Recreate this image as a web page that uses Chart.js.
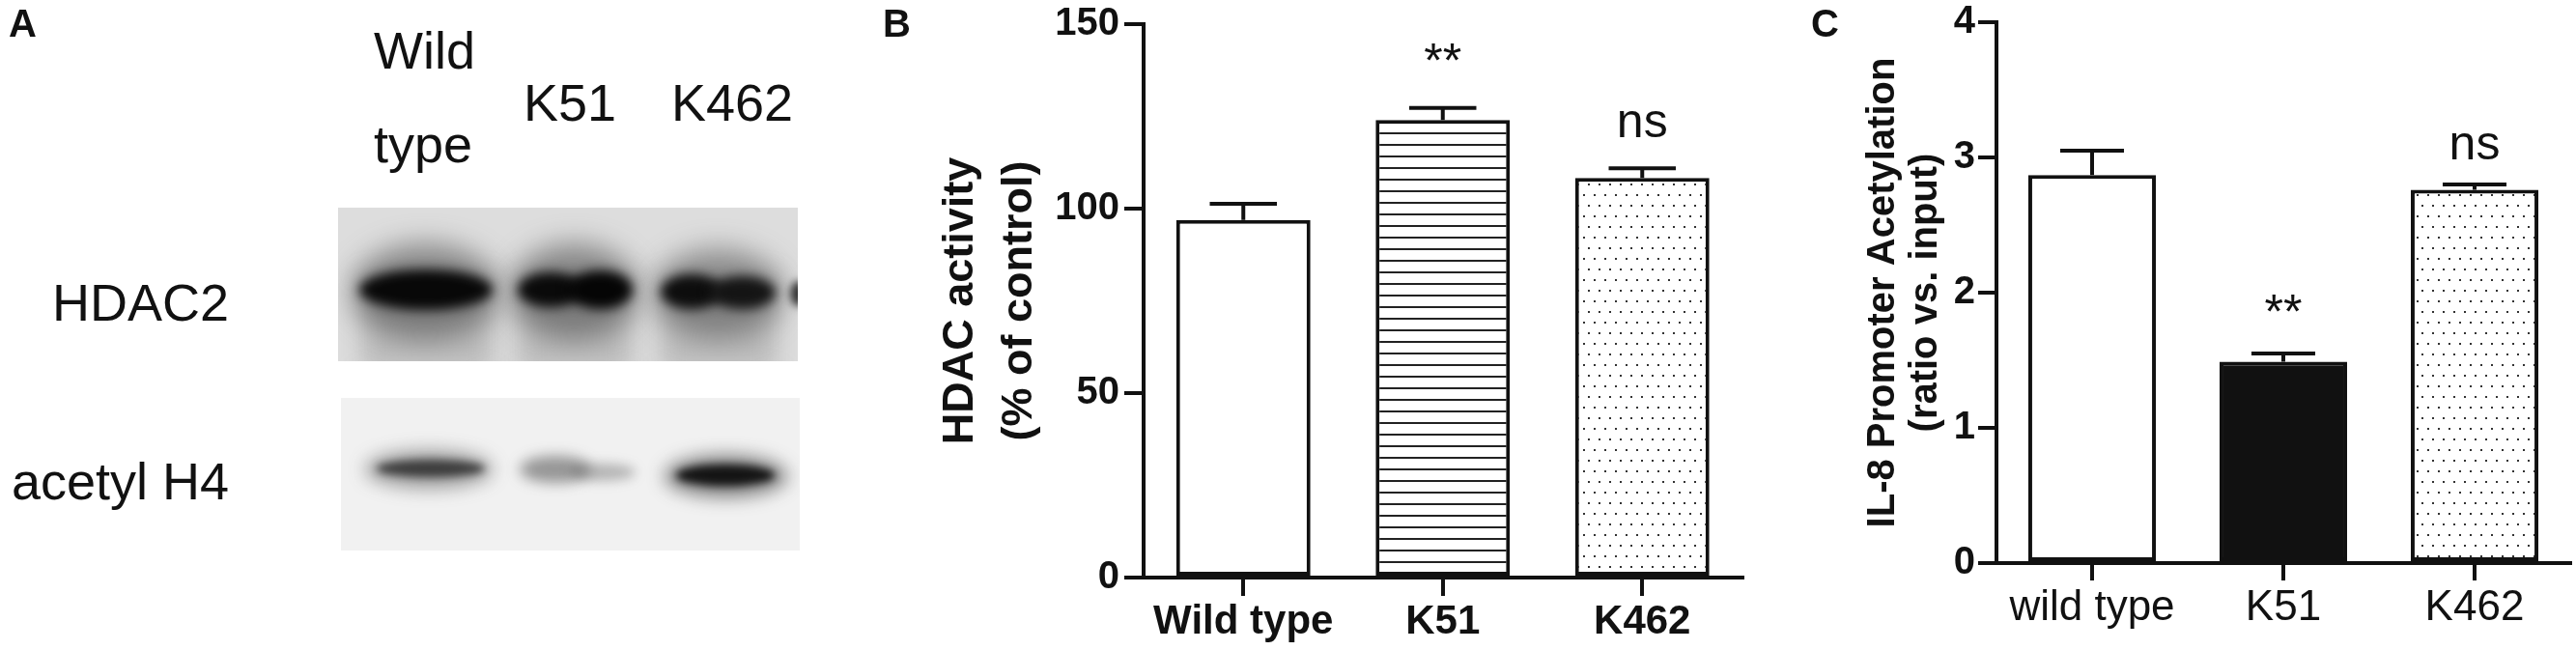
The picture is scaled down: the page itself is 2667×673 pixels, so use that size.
<!DOCTYPE html>
<html>
<head>
<meta charset="utf-8">
<script src="https://cdn.jsdelivr.net/npm/chart.js@4.4.1/dist/chart.umd.min.js"></script>
<style>
  html, body { margin: 0; padding: 0; background: #fff; }
  body { width: 2667px; height: 673px; position: relative; overflow: hidden; }
  .pane { position: absolute; top: 0; height: 673px; }
</style>
</head>
<body>
<canvas id="blot" class="pane" style="left:0;width:880px" width="880" height="673"></canvas>
<div class="pane" style="left:900px;width:930px"><canvas id="chartB"></canvas></div>
<div class="pane" style="left:1840px;width:827px"><canvas id="chartC"></canvas></div>

<script>
// panel B: HDAC activity
const categoriesB = ['Wild type', 'K51', 'K462'];
const hdacActivity = [96.9, 124.0, 108.3];
const hdacSem = [4.4, 3.3, 2.6];
const hdacMarks = ['', '**', 'ns'];
const ticksB = [0, 50, 100, 150];

// panel C: IL-8 promoter acetylation
const categoriesC = ['wild type', 'K51', 'K462'];
const il8Acetylation = [2.87, 1.49, 2.76];
const il8Sem = [0.18, 0.06, 0.04];
const il8Marks = ['', '**', 'ns'];
const ticksC = [0, 1, 2, 3, 4];

// panel A: blot lanes
const blotLanes = ['K51', 'K462'];
const blotRows = ['HDAC2', 'acetyl H4'];

const FONT = '"Liberation Sans", Arial, Helvetica, sans-serif';
const INK = '#111';
Chart.defaults.font.family = FONT;
Chart.defaults.color = INK;

// ---------- panel A (western blot picture) ----------
(function drawBlot() {
  const c = document.getElementById('blot');
  const ctx = c.getContext('2d');
  ctx.fillStyle = INK;
  ctx.font = 'bold 40px ' + FONT;
  ctx.fillText('A', 9, 38);

  ctx.font = '54px ' + FONT;
  ctx.fillText('Wild', 387, 71);
  ctx.fillText('type', 387, 168);
  ctx.fillText(blotLanes[0], 542, 125);
  ctx.fillText(blotLanes[1], 695, 125);
  ctx.textAlign = 'right';
  ctx.fillText(blotRows[0], 237, 332);
  ctx.fillText(blotRows[1], 237, 517);
  ctx.textAlign = 'left';

  function band(x0, x1, y, h, col, blur) {
    ctx.save();
    ctx.filter = 'blur(' + blur + 'px)';
    ctx.fillStyle = col;
    ctx.beginPath();
    ctx.ellipse((x0 + x1) / 2, y, (x1 - x0) / 2, h / 2, 0, 0, Math.PI * 2);
    ctx.fill();
    ctx.restore();
  }

  // upper membrane
  ctx.save();
  ctx.beginPath(); ctx.rect(350, 215, 476, 159); ctx.clip();
  ctx.fillStyle = '#dddddd'; ctx.fillRect(350, 215, 476, 159);
  // lane smears below the bands
  [[374, 510], [536, 654], [684, 804]].forEach(([a, b]) => {
    ctx.save(); ctx.filter = 'blur(12px)'; ctx.fillStyle = 'rgba(140,140,140,0.4)';
    ctx.fillRect(a, 285, b - a, 100); ctx.restore();
  });
  band(364, 517, 302, 100, 'rgba(70,70,70,0.55)', 14);
  band(528, 661, 302, 100, 'rgba(70,70,70,0.55)', 14);
  band(676, 811, 304, 94, 'rgba(70,70,70,0.5)', 14);
  band(372, 510, 300, 42, '#080808', 6);
  band(536, 604, 300, 36, '#0a0a0a', 6);
  band(588, 655, 300, 40, '#050505', 6);
  band(684, 748, 302, 36, '#0d0d0d', 6);
  band(734, 803, 303, 34, '#141414', 6);
  band(818, 836, 304, 26, '#333', 4);
  ctx.restore();

  // lower membrane
  ctx.save();
  ctx.beginPath(); ctx.rect(353, 412, 475, 158); ctx.clip();
  ctx.fillStyle = '#f1f1f1'; ctx.fillRect(353, 412, 475, 158);
  band(378, 510, 486, 40, 'rgba(60,60,60,0.45)', 9);
  band(390, 502, 485, 18, 'rgba(30,30,30,0.75)', 4);
  band(538, 612, 486, 28, 'rgba(60,60,60,0.5)', 7);
  band(590, 658, 489, 18, 'rgba(90,90,90,0.4)', 6);
  band(688, 815, 493, 44, 'rgba(40,40,40,0.55)', 9);
  band(700, 802, 492, 22, 'rgba(8,8,8,0.9)', 4);
  ctx.restore();
})();

// ---------- bar fills ----------
function linePattern(ctx) {
  const t = document.createElement('canvas');
  t.width = 8; t.height = 12;
  const g = t.getContext('2d');
  g.fillStyle = '#fff'; g.fillRect(0, 0, 8, 12);
  g.fillStyle = '#222'; g.fillRect(0, 5, 8, 2);
  return ctx.createPattern(t, 'repeat');
}
function dotPattern(ctx) {
  const t = document.createElement('canvas');
  t.width = 11; t.height = 22;
  const g = t.getContext('2d');
  g.fillStyle = '#fff'; g.fillRect(0, 0, 11, 22);
  g.fillStyle = '#333';
  g.fillRect(2, 3, 2, 2);
  g.fillRect(7, 14, 2, 2);
  return ctx.createPattern(t, 'repeat');
}

// error bars, significance marks and panel letter
function overlay(cfg) {
  return {
    id: 'overlay' + cfg.letter,
    afterDatasetsDraw(chart) {
      const { ctx, scales: { y } } = chart;
      const meta = chart.getDatasetMeta(0);
      const vals = chart.data.datasets[0].data;
      ctx.save();
      ctx.strokeStyle = INK;
      ctx.fillStyle = INK;
      ctx.lineWidth = 4;
      meta.data.forEach((bar, i) => {
        const top = y.getPixelForValue(vals[i] + cfg.sem[i]);
        const half = bar.width * 0.5 / 2;
        ctx.beginPath();
        ctx.moveTo(bar.x, bar.y);
        ctx.lineTo(bar.x, top);
        ctx.moveTo(bar.x - half, top);
        ctx.lineTo(bar.x + half, top);
        ctx.stroke();
        if (cfg.marks[i]) {
          ctx.font = '50px ' + FONT;
          ctx.textAlign = 'center';
          ctx.textBaseline = 'alphabetic';
          ctx.fillText(cfg.marks[i], bar.x, top - cfg.gap);
        }
      });
      ctx.font = 'bold 40px ' + FONT;
      ctx.textAlign = 'left';
      ctx.fillText(cfg.letter, cfg.letterX, 38);
      ctx.restore();
    }
  };
}

function buildChart(id, o) {
  const canvas = document.getElementById(id);
  const ctx = canvas.getContext('2d');
  return new Chart(ctx, {
    type: 'bar',
    data: {
      labels: o.labels,
      datasets: [{
        data: o.values,
        backgroundColor: o.fills,
        borderColor: INK,
        borderWidth: 4,
        borderSkipped: false,
        barPercentage: o.barPct,
        categoryPercentage: 1
      }]
    },
    options: {
      responsive: true,
      maintainAspectRatio: false,
      animation: false,
      layout: { padding: { top: 22, right: o.padRight, left: 0, bottom: 0 } },
      plugins: { legend: { display: false }, tooltip: { enabled: false } },
      scales: {
        x: {
          afterFit: s => { s.height = o.xHeight; },
          border: { color: INK, width: 4 },
          grid: { drawOnChartArea: false, offset: false, color: INK, lineWidth: 4, tickLength: o.xTick },
          ticks: { color: INK, padding: 2, font: o.xFont }
        },
        y: {
          min: 0,
          max: o.max,
          afterBuildTicks: s => { s.ticks = o.ticks.map(v => ({ value: v })); },
          afterFit: s => { s.width = o.yWidth; },
          border: { color: INK, width: 4 },
          grid: { drawOnChartArea: false, color: INK, lineWidth: 4, tickLength: o.yTick },
          ticks: { color: INK, padding: o.yPad, font: { size: 40, weight: 'bold', lineHeight: 1 } },
          title: {
            display: true,
            text: o.title,
            color: INK,
            font: o.titleFont,
            padding: { top: o.titlePad, bottom: 0 }
          }
        }
      }
    },
    plugins: [overlay(o.overlay)]
  });
}

const ctxB = document.getElementById('chartB').getContext('2d');
buildChart('chartB', {
  labels: categoriesB,
  values: hdacActivity,
  fills: ['#fff', linePattern(ctxB), dotPattern(ctxB)],
  barPct: 0.673,
  max: 150,
  ticks: ticksB,
  padRight: 26.5,
  yWidth: 284,
  xHeight: 75,
  xTick: 19,
  yTick: 20,
  yPad: 5,
  xFont: { size: 42, weight: 'bold' },
  title: ['HDAC activity', '(% of control)'],
  titleFont: { size: 45, weight: 'bold', lineHeight: 1.36 },
  titlePad: 63.5,
  overlay: { letter: 'B', letterX: 14, sem: hdacSem, marks: hdacMarks, gap: 32 }
});

const ctxC = document.getElementById('chartC').getContext('2d');
buildChart('chartC', {
  labels: categoriesC,
  values: il8Acetylation,
  fills: ['#fff', '#111', dotPattern(ctxC)],
  barPct: 0.667,
  max: 4,
  ticks: ticksC,
  padRight: 6,
  yWidth: 227,
  xHeight: 90,
  xTick: 18,
  yTick: 19,
  yPad: 3,
  xFont: { size: 44, weight: 'normal' },
  title: ['IL-8 Promoter Acetylation', '(ratio vs. input)'],
  titleFont: { size: 40, weight: 'bold', lineHeight: 1.1 },
  titlePad: 88,
  overlay: { letter: 'C', letterX: 35, sem: il8Sem, marks: il8Marks, gap: 26 }
});
</script>
</body>
</html>
